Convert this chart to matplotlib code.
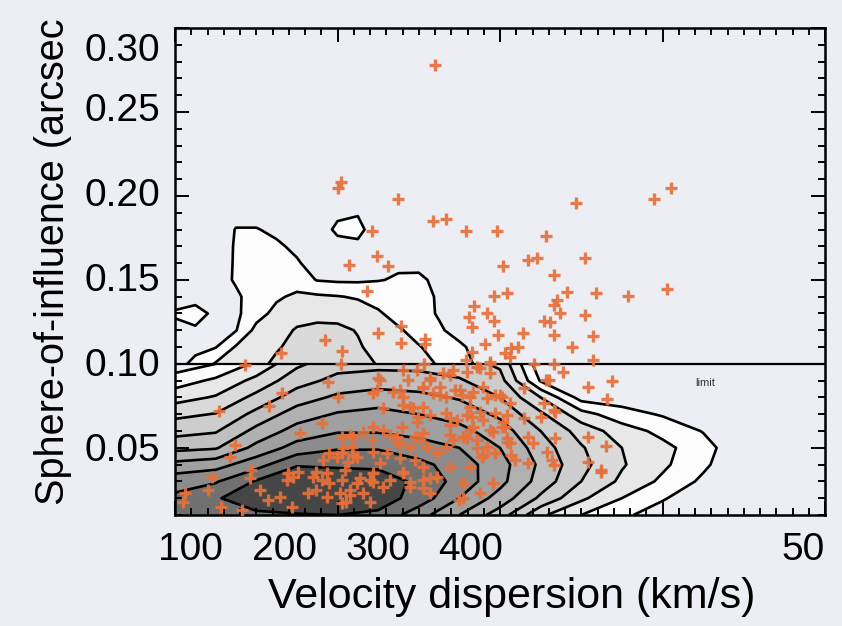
import matplotlib
matplotlib.use('Agg')
import matplotlib.pyplot as plt
import numpy as np
from matplotlib.ticker import MultipleLocator

plt.rcParams['font.family'] = ['Liberation Sans', 'DejaVu Sans']

# density of the model sample below the 0.10" limit (rows: 0.01 .. 0.10, columns: 100 .. 500 km/s)
lower_sigma = [100, 125, 150, 175, 200, 225, 250, 275, 300, 325, 350, 375, 400, 425, 450, 475, 500]
lower_soi = [0.01, 0.02, 0.03, 0.04, 0.05, 0.06, 0.07, 0.08, 0.09, 0.10]
lower_density = [
    [9.0, 9.6, 9.8, 9.9, 10.0, 9.8, 8.4, 7.0, 5.5, 3.2, 2.0, 1.2, 0.5, 0.0, 0.0, 0.0, 0.0],
    [9.2, 9.9, 10.6, 11.1, 11.0, 10.5, 9.6, 8.0, 6.6, 4.8, 3.2, 2.0, 1.1, 0.3, 0.0, 0.0, 0.0],
    [8.6, 8.9, 10.1, 10.9, 10.8, 10.5, 9.8, 8.6, 7.3, 5.6, 4.0, 2.8, 1.8, 0.8, 0.0, 0.0, 0.0],
    [7.3, 7.6, 8.6, 9.9, 9.8, 9.8, 9.3, 8.5, 7.4, 5.8, 4.3, 3.1, 2.2, 1.2, 0.1, 0.0, 0.0],
    [5.7, 5.9, 7.3, 8.4, 8.9, 8.9, 8.4, 8.0, 7.0, 5.5, 4.1, 3.0, 2.3, 1.4, 0.2, 0.0, 0.0],
    [4.65, 4.9, 6.3, 7.4, 7.9, 7.9, 7.7, 7.3, 6.5, 5.0, 3.6, 2.5, 1.7, 0.95, 0.1, 0.0, 0.0],
    [3.75, 4.05, 5.3, 6.5, 7.1, 7.3, 7.0, 6.6, 5.8, 4.2, 2.4, 1.4, 0.9, 0.4, 0.0, 0.0, 0.0],
    [2.6, 3.1, 4.3, 5.5, 6.2, 6.5, 6.3, 5.9, 5.0, 3.0, 0.6, 0.5, 0.3, 0.1, 0.0, 0.0, 0.0],
    [1.5, 2.2, 3.3, 4.6, 5.3, 5.5, 5.4, 5.1, 4.4, 0.9, 0.1, 0.0, 0.0, 0.0, 0.0, 0.0, 0.0],
    [0.4, 1.0, 2.2, 3.8, 4.6, 4.7, 4.7, 4.5, 3.8, 0.3, 0.0, 0.0, 0.0, 0.0, 0.0, 0.0, 0.0],
]

# density above the limit (rows: 0.10 .. 0.20, columns: 100 .. 300 km/s)
upper_sigma = [100, 112.5, 125, 137.5, 150, 162.5, 175, 187.5, 200, 212.5, 225, 237.5, 250, 262.5, 275, 287.5, 300]
upper_soi = [0.10, 0.11, 0.12, 0.13, 0.14, 0.15, 0.16, 0.17, 0.18, 0.19, 0.20]
upper_density = [
    [0.7, 1.2, 2.1, 2.5, 2.7, 3.2, 3.5, 3.6, 3.5, 3.3, 2.95, 2.6, 2.4, 1.9, 1.4, 0.8, 0.3],
    [0.6, 0.8, 0.95, 2.1, 2.6, 2.9, 3.3, 3.4, 3.3, 3.1, 2.7, 2.4, 2.05, 1.7, 1.2, 0.6, 0.2],
    [0.75, 0.85, 0.6, 0.95, 2.3, 2.6, 3.1, 3.25, 3.2, 2.95, 2.5, 2.1, 1.7, 1.15, 0.6, 0.3, 0.1],
    [1.1, 1.4, 0.75, 0.8, 1.6, 2.3, 2.6, 2.7, 2.7, 2.5, 2.1, 1.7, 1.4, 0.9, 0.5, 0.2, 0.1],
    [0.6, 0.6, 0.7, 0.85, 1.4, 1.85, 2.2, 2.15, 2.05, 1.9, 1.7, 1.5, 1.3, 0.9, 0.4, 0.1, 0.0],
    [0.3, 0.4, 0.6, 1.1, 1.5, 1.7, 1.5, 0.95, 0.85, 0.85, 0.95, 1.1, 1.15, 0.8, 0.3, 0.1, 0.0],
    [0.2, 0.3, 0.5, 1.1, 1.4, 1.4, 1.1, 0.6, 0.5, 0.55, 0.6, 0.85, 0.8, 0.5, 0.2, 0.0, 0.0],
    [0.1, 0.2, 0.4, 1.1, 1.35, 1.15, 0.8, 0.5, 0.75, 0.85, 0.5, 0.4, 0.3, 0.2, 0.1, 0.0, 0.0],
    [0.1, 0.1, 0.3, 1.05, 1.05, 0.8, 0.5, 0.6, 1.15, 1.2, 0.6, 0.3, 0.2, 0.1, 0.0, 0.0, 0.0],
    [0.0, 0.0, 0.2, 0.6, 0.6, 0.4, 0.3, 0.4, 0.85, 0.95, 0.4, 0.1, 0.1, 0.0, 0.0, 0.0, 0.0],
    [0.0, 0.0, 0.0, 0.1, 0.1, 0.1, 0.1, 0.2, 0.4, 0.4, 0.1, 0.0, 0.0, 0.0, 0.0, 0.0, 0.0],
]

levels = [1, 2, 3, 4, 5, 6, 7, 8, 9, 10, 20]
band_grays = [252, 232, 218, 205, 192, 177, 160, 140, 112, 70]

# observed galaxies
sigma_up = [260, 200, 202, 237, 259, 267, 221, 279, 298, 207, 224, 231,
            347, 395, 405, 328, 302, 317, 323, 352, 333,
            218, 296, 304, 284, 281, 292, 296, 283, 299, 314, 225, 239, 254, 254, 291, 307, 311, 303, 306, 283, 239, 321, 294, 253, 279,
            192, 203, 165, 202, 143,
            341, 359, 379, 403, 335, 333, 337, 352, 327, 331, 333, 357, 344, 357, 333]
soi_up = [0.278, 0.205, 0.208, 0.198, 0.185, 0.186, 0.179, 0.179, 0.179, 0.159, 0.164, 0.158,
          0.196, 0.198, 0.205, 0.176, 0.158, 0.162, 0.163, 0.163, 0.153,
          0.1435, 0.1405, 0.142, 0.1345, 0.128, 0.130, 0.1256, 0.122, 0.117, 0.1185, 0.1185, 0.1125, 0.115, 0.112, 0.112, 0.1095, 0.110, 0.1065, 0.104, 0.107, 0.1226, 0.100, 0.100, 0.100, 0.1024,
          0.1143, 0.1077, 0.1066, 0.100, 0.0994,
          0.143, 0.142, 0.1405, 0.1446, 0.138, 0.135, 0.130, 0.129, 0.1256, 0.125, 0.1173, 0.1167, 0.110, 0.1024, 0.100]

sigma_right = [339, 369, 354, 366, 328, 330, 315, 301, 327, 333, 315, 325, 301, 306, 317, 320, 329, 354, 365, 354, 362, 362, 297, 309, 333,
               306, 334, 302, 304, 303, 334, 332, 317, 307]
soi_right = [0.0952, 0.0899, 0.0863, 0.0792, 0.0905, 0.0905, 0.0857, 0.0804, 0.0768, 0.0726, 0.0679, 0.0685, 0.0625, 0.053, 0.0565, 0.053, 0.0476, 0.0565, 0.0512, 0.0417, 0.037, 0.0355, 0.047, 0.043, 0.040,
             0.0768, 0.0714, 0.0655, 0.056, 0.0625, 0.056, 0.043, 0.041, 0.0458]

sigma_core = [166, 194, 200, 127, 158, 190.5, 177, 137, 134, 123, 106, 105, 120, 128, 141, 147, 146, 152, 157, 164.6,
              169, 169.5, 172.6, 175.7, 172, 185, 187, 190.5, 193.5, 195, 187, 182, 193.5, 203, 204.6, 201.5, 207.7, 212, 215.7, 220,
              220, 228, 232, 203, 240, 244.6, 252.6, 257, 275,
              203, 209, 206.5, 199.7, 212, 195, 191, 202.8, 209.5,
              222, 228, 221, 236.6, 239.7, 247.7, 252.6, 238.5, 244.6, 230.4, 238.5, 247.7, 255, 261, 267, 271, 277, 281.5, 285.8, 292, 289, 294,
              249.5, 252.6, 244.6, 240, 228, 224, 238.5, 252.6, 258.8, 263, 267, 272, 276.6, 281.5, 289.5, 297,
              257, 265, 271, 279.7, 285.8, 293.8, 249, 240, 225,
              267, 273.5, 283, 281.5, 289.5, 297,
              226, 222, 269, 281.5, 277, 295.7, 287.7, 277, 252.6, 261]
soi_core = [0.0827, 0.0893, 0.0804, 0.072, 0.075, 0.065, 0.059, 0.0518, 0.0446, 0.0327, 0.023, 0.018, 0.025, 0.015, 0.013, 0.037, 0.032, 0.025, 0.019, 0.0208,
            0.031, 0.035, 0.0327, 0.0357, 0.015, 0.0327, 0.0357, 0.031, 0.035, 0.029, 0.025, 0.0232, 0.0208, 0.031, 0.037, 0.0232, 0.025, 0.029, 0.0232, 0.031,
            0.018, 0.0268, 0.031, 0.0173, 0.035, 0.0268, 0.031, 0.0232, 0.019,
            0.047, 0.0506, 0.0417, 0.0446, 0.0446, 0.047, 0.043, 0.0565, 0.0565,
            0.0625, 0.0607, 0.0548, 0.0565, 0.0625, 0.0565, 0.059, 0.053, 0.0506, 0.047, 0.044, 0.0429, 0.0506, 0.047, 0.0506, 0.0548, 0.0565, 0.0607, 0.0548, 0.0506, 0.0446, 0.0607,
            0.0685, 0.0744, 0.0744, 0.080, 0.0738, 0.0845, 0.0845, 0.0863, 0.0827, 0.0863, 0.080, 0.0845, 0.0815, 0.080, 0.0863, 0.0815,
            0.0905, 0.0946, 0.0964, 0.0952, 0.0982, 0.0946, 0.0964, 0.0964, 0.0917,
            0.0708, 0.0667, 0.0685, 0.0744, 0.0667, 0.0708,
            0.041, 0.035, 0.0387, 0.0387, 0.029, 0.029, 0.0232, 0.0202, 0.0387, 0.0327]

sigma_dense = [226.2, 243.4, 256.9, 269.2, 287.7, 293.8, 221.8, 234.2, 252.6, 263, 275.4, 283.4, 292, 300,
               240.3, 246.5, 256.9, 269.2, 279.7, 287.7, 304.3, 249, 269.2, 283.4, 295.7, 304.3,
               232.3, 236.6, 250.8, 269.2, 279.7, 285.8, 289.5, 207.7, 215.7, 203.4, 209.5, 221.8,
               240.3, 244.6, 256.9, 252.6, 221.8, 213.8, 207.7, 205.5]
soi_dense = [0.0905, 0.0905, 0.0917, 0.0935, 0.0976, 0.1012, 0.0827, 0.0833, 0.0857, 0.0815, 0.0845, 0.0833, 0.0798, 0.0815,
             0.0756, 0.0738, 0.0696, 0.0679, 0.0696, 0.0714, 0.0696, 0.0655, 0.0637, 0.0625, 0.0595, 0.0536,
             0.0577, 0.0536, 0.0548, 0.0577, 0.056, 0.05, 0.0458, 0.0577, 0.0595, 0.05, 0.0458, 0.0476,
             0.0357, 0.0298, 0.0321, 0.0262, 0.0298, 0.0321, 0.022, 0.0179]

xtick_labels = ['100', '200', '300', '400', '50']
ytick_labels = ['0.30', '0.25', '0.20', '0.15', '0.10', '0.05']

bg = '#eceef3'
fig = plt.figure(figsize=(8.42, 6.26), dpi=100, facecolor=bg)
ax = fig.add_axes([175 / 842, 1 - 515 / 626, 650 / 842, 487 / 626], facecolor=bg)

colors = [str(g / 255) for g in band_grays]
for xs, ys, zz in [(lower_sigma, lower_soi, lower_density), (upper_sigma, upper_soi, upper_density)]:
    X, Y = np.meshgrid(xs, ys)
    Z = np.array(zz)
    ax.contourf(X, Y, Z, levels=levels, colors=colors, zorder=1)
    ax.contour(X, Y, Z, levels=levels[:-1], colors='k', linewidths=1.9, zorder=2)

ax.axhline(0.10, color='k', lw=1.6, zorder=3)
ax.text(426, 0.0887, 'limit', fontsize=8, color='#333333', ha='center', va='center', zorder=3)

sx = sigma_up + sigma_right + sigma_core + sigma_dense
sy = soi_up + soi_right + soi_core + soi_dense
ax.plot(sx, sy, '+', color='#e6703b', ms=8, mew=2.4, zorder=4, alpha=0.92)

ax.set_xlim(100, 500)
ax.set_ylim(0.01, 0.30)
ax.set_xticks(np.arange(100, 501, 100))
ax.set_yticks(np.arange(0.05, 0.301, 0.05))
ax.xaxis.set_minor_locator(MultipleLocator(10))
ax.yaxis.set_minor_locator(MultipleLocator(0.01))
ax.tick_params(which='both', direction='in', top=True, right=True,
               labelbottom=False, labelleft=False, width=1.4, color='k')
ax.tick_params(which='major', length=10)
ax.tick_params(which='minor', length=5)
for s in ax.spines.values():
    s.set_linewidth(1.8)

# tick labels as they sit on the slide
for lab, px in zip(xtick_labels, [190, 284, 378, 471, 803]):
    fig.text(px / 842, 1 - 560 / 626, lab, fontsize=28, ha='center', va='baseline')
for lab, py in zip(ytick_labels, [61, 121, 206, 291, 376, 461]):
    fig.text(160 / 842, 1 - py / 626, lab, fontsize=28, ha='right', va='baseline')

fig.text(512 / 842, 1 - 608 / 626, 'Velocity dispersion (km/s)', fontsize=31, ha='center', va='baseline')
fig.text(53 / 842, 1 - 505 / 626, 'Sphere-of-influence (arcsec', fontsize=28.5,
         rotation=90, ha='center', va='bottom')

fig.savefig('out.png', dpi=100, facecolor=bg)
